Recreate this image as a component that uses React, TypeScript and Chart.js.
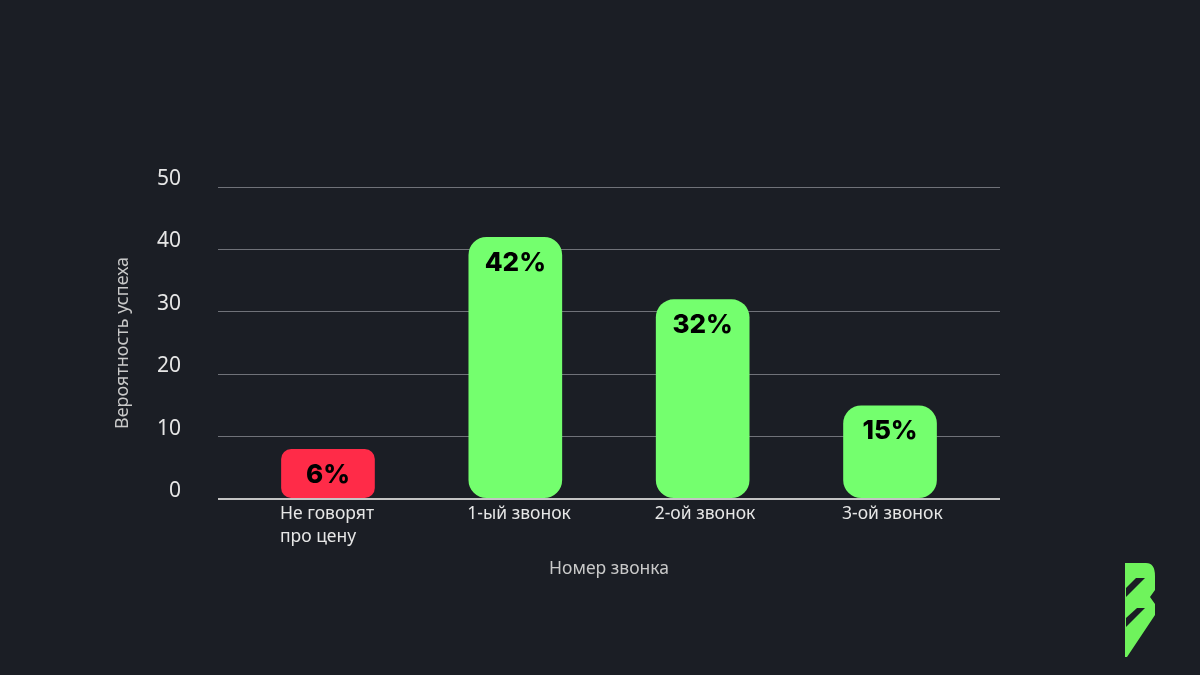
import React, { useEffect, useRef } from "react";
import { Chart, registerables } from "chart.js";

Chart.register(...registerables);

const categories: (string | string[])[] = [["Не говорят", "про цену"], "1-ый звонок", "2-ой звонок", "3-ой звонок"];
const values = [8, 42, 32, 15];
const valueLabels = ["6%", "42%", "32%", "15%"];
const barColors = ["#ff2b48", "#74ff6e", "#74ff6e", "#74ff6e"];
const yTicks = [0, 10, 20, 30, 40, 50];

const BG = "#1b1e25";
const FONT = "'Noto Sans', sans-serif";

const valueLabelPlugin = {
  id: "valueLabels",
  afterDatasetsDraw(chart: any) {
    const { ctx } = chart;
    const meta = chart.getDatasetMeta(0);
    ctx.save();
    ctx.fillStyle = "#000000";
    ctx.font = `800 26px Inter, sans-serif`;
    ctx.textAlign = "center";
    ctx.textBaseline = "middle";
    meta.data.forEach((bar: any, i: number) => {
      ctx.fillText(valueLabels[i], bar.x, bar.y + 26);
    });
    ctx.restore();
  },
};

const bgPlugin = {
  id: "bgFill",
  beforeDraw(chart: any) {
    const { ctx, width, height } = chart;
    ctx.save();
    ctx.fillStyle = BG;
    ctx.fillRect(0, 0, width, height);
    ctx.restore();
  },
};

export default function App() {
  const ref = useRef<HTMLCanvasElement>(null);
  useEffect(() => {
    if (!ref.current) return;
    const chart = new Chart(ref.current, {
      type: "bar",
      data: {
        datasets: [
          {
            data: values.map((v, i) => ({ x: i, y: v })),
            backgroundColor: barColors,
            borderRadius: (c: any) => (c.dataIndex === 0 ? 10 : 18),
            borderSkipped: false,
            barPercentage: 1,
            categoryPercentage: 0.5,
          },
        ],
      },
      options: {
        animation: false,
        responsive: false,
        maintainAspectRatio: false,
        layout: { padding: { left: 108, right: 200, top: 187, bottom: 95 } },
        plugins: { legend: { display: false }, tooltip: { enabled: false } },
        scales: {
          x: {
            type: "linear",
            offset: false,
            min: -0.587,
            max: 3.587,
            afterBuildTicks: (s: any) => { s.ticks = categories.map((_, i) => ({ value: i })); },
            grid: { display: false, drawTicks: false },
            border: { display: false },
            ticks: {
              color: "#e6e6e6",
              font: { family: FONT, size: 17.5, lineHeight: 1.35 },
              padding: 3,
              maxRotation: 0,
              autoSkip: false,
              align: "start",
              labelOffset: -48,
              callback: (v: any) => categories[v as number],
            },
            title: { display: true, text: "Номер звонка", color: "#c9c9c9", font: { family: FONT, size: 17.5 }, padding: 0 },
            afterFit: (s: any) => { s.height = 81; },
          },
          y: {
            min: 0,
            max: 50,
            afterBuildTicks: (s: any) => { s.ticks = yTicks.map((v) => ({ value: v })); },
            grid: {
              drawTicks: false,
              color: (c: any) => (c.tick && c.tick.value === 0 ? "#c4c4c4" : "#707279"),
              lineWidth: (c: any) => (c.tick && c.tick.value === 0 ? 2 : 1),
            },
            border: { display: false },
            ticks: { color: "#e6e6e6", font: { family: FONT, size: 21 }, padding: 37, labelOffset: -8 },
            title: { display: true, text: "Вероятность успеха", color: "#c9c9c9", font: { family: FONT, size: 18 }, padding: 4 },
            afterFit: (s: any) => { s.width = 110; },
          },
        },
      },
      plugins: [bgPlugin, valueLabelPlugin],
    } as any);
    return () => chart.destroy();
  }, []);
  return (
    <div style={{ position: "fixed", left: 0, top: 0, width: 1200, height: 675, background: BG }}>
      <canvas ref={ref} width={1200} height={675} style={{ display: "block" }} />
      <svg width={1200} height={675} style={{ position: "absolute", left: 0, top: 0, pointerEvents: "none" }}>
        <path
          d="M1125 563 L1146 563 Q1155 563 1155 576 L1155 590 L1150 597 L1155 604 L1155 615 L1127 657 L1125 657 Z"
          fill="#6ff35c"
        />
        <path d="M1136 578 L1145 578 L1126 597 L1126 588 Z" fill={BG} />
        <path d="M1137 608 L1145 608 L1126 627 L1126 618 Z" fill={BG} />
      </svg>
    </div>
  );
}
